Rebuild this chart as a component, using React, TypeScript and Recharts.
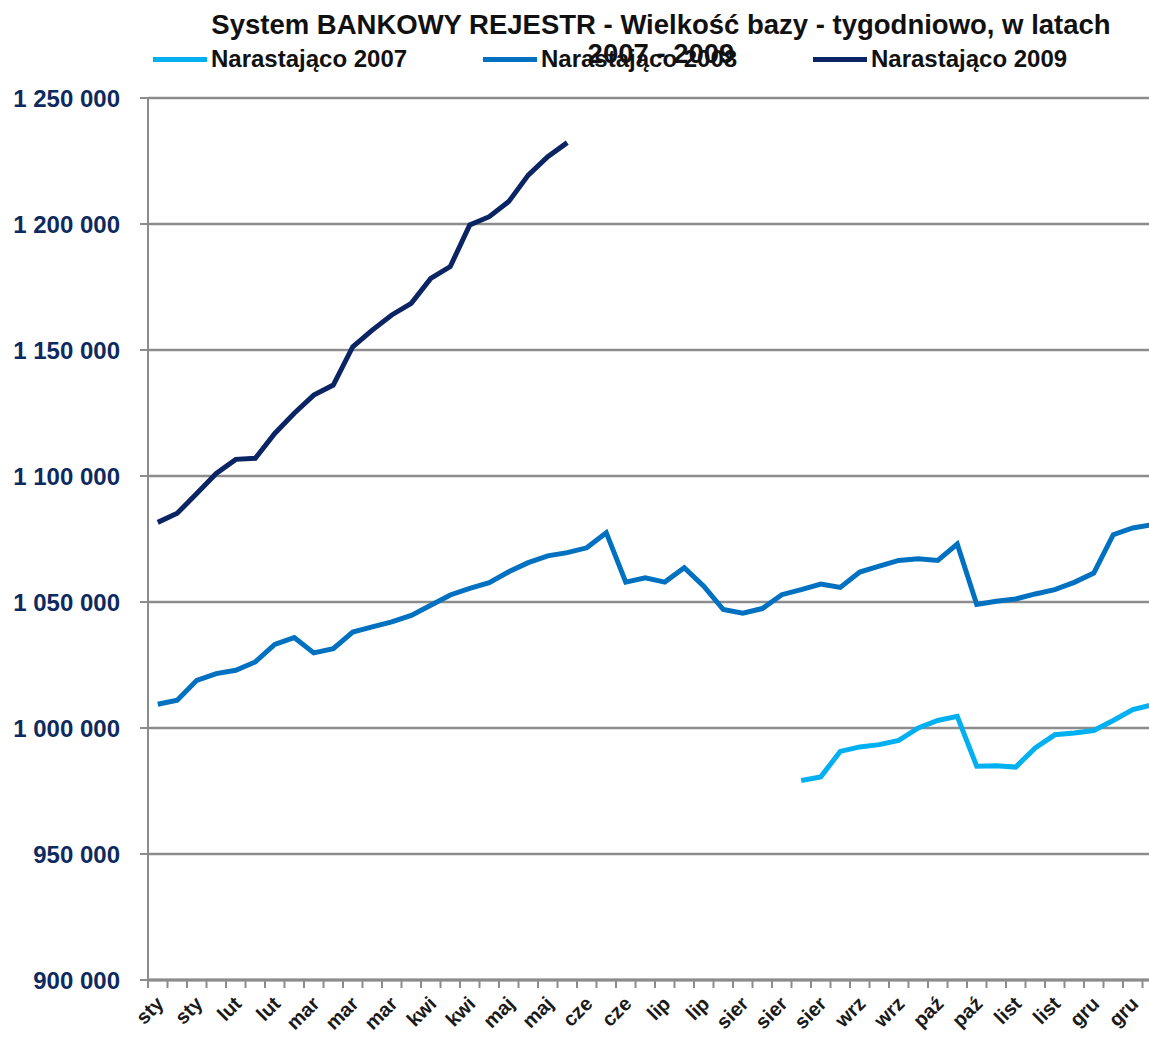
import { LineChart, Line, XAxis, YAxis, CartesianGrid } from "recharts";

const WEEKS = [
  "sty", "sty", "sty", "sty", "lut", "lut", "lut", "lut", "mar", "mar", "mar", "mar", "mar",
  "kwi", "kwi", "kwi", "kwi", "kwi", "maj", "maj", "maj", "maj", "cze", "cze", "cze", "cze",
  "lip", "lip", "lip", "lip", "sier", "sier", "sier", "sier", "sier", "wrz", "wrz", "wrz", "wrz",
  "paź", "paź", "paź", "paź", "list", "list", "list", "list", "gru", "gru", "gru", "gru", "gru",
];

// 2007 data starts in August (week 33)
const Y2007 = [
  null, null, null, null, null, null, null, null, null, null, null, null, null,
  null, null, null, null, null, null, null, null, null, null, null, null, null,
  null, null, null, null, null, null, null, 979200, 980600, 990700, 992500, 993400, 995100,
  1000000, 1003000, 1004600, 984800, 985000, 984500, 992100, 997300, 998000, 999000, 1003000, 1007300, 1009200,
];

const Y2008 = [
  1009400, 1011000, 1018900, 1021600, 1022900, 1026200, 1033200, 1035900, 1029800, 1031500, 1038100, 1040100, 1042100,
  1044700, 1048700, 1052800, 1055400, 1057700, 1062000, 1065600, 1068300, 1069600, 1071500, 1077500, 1057900, 1059600,
  1057900, 1063600, 1056300, 1047000, 1045600, 1047400, 1052900, 1054900, 1057100, 1055800, 1061900, 1064200, 1066500,
  1067200, 1066500, 1073000, 1049000, 1050300, 1051200, 1053200, 1054900, 1057800, 1061500, 1076700, 1079400, 1080700,
];

const Y2009 = [
  1081600, 1085200, 1093100, 1101000, 1106600, 1107000, 1116900, 1124900, 1132100, 1136100, 1151300, 1157900, 1163900,
  1168500, 1178400, 1183100, 1199600, 1202900, 1208900, 1219400, 1226700, 1232300,
];

const Y_TICKS = [900000, 950000, 1000000, 1050000, 1100000, 1150000, 1200000, 1250000];

const SERIES = [
  { key: "y2007", name: "Narastająco 2007", color: "#00b0f0" },
  { key: "y2008", name: "Narastająco 2008", color: "#0070c0" },
  { key: "y2009", name: "Narastająco 2009", color: "#0b2463" },
];

const data = WEEKS.map((week, i) => ({
  week,
  y2007: Y2007[i] ?? null,
  y2008: Y2008[i] ?? null,
  y2009: Y2009[i] ?? null,
}));

const PLOT_W = 1014;
const STEP = PLOT_W / WEEKS.length;
const GRID = "#8c8c8c";
const FONT = "'Liberation Sans', Arial, sans-serif";

const fmt = (v: number) => String(v).replace(/\B(?=(\d{3})+(?!\d))/g, " ");

function WeekTick(props: any) {
  const { x, y, index, payload } = props;
  const lx = x - STEP / 2;
  return (
    <g>
      <line x1={lx} y1={y} x2={lx} y2={y + 8} stroke={GRID} strokeWidth={2} />
      {index % 2 === 0 && (
        <text
          x={x + 7}
          y={y + 25}
          transform={`rotate(-45, ${x + 7}, ${y + 25})`}
          textAnchor="end"
          fill="#1a1a1a"
          fontSize={20}
          fontWeight="bold"
          fontFamily={FONT}
        >
          {payload.value}
        </text>
      )}
    </g>
  );
}

export default function App() {
  return (
    <div style={{ position: "fixed", left: 0, top: 0, width: 1149, height: 1049, overflow: "hidden", background: "#fff" }}>
      <div style={{ position: "absolute", left: 8, top: 8, width: 1160, height: 1041 }}>
        <div
          style={{
            position: "absolute",
            left: 0,
            width: 1306,
            top: 2,
            textAlign: "center",
            fontFamily: FONT,
            fontWeight: "bold",
            fontSize: 27.5,
            lineHeight: "29px",
            color: "#111",
            zIndex: 2,
          }}
        >
          System BANKOWY REJESTR - Wielkość bazy - tygodniowo, w latach
          <br />
          2007 - 2009
        </div>
        {SERIES.map((s, i) => (
          <div
            key={s.key}
            style={{
              position: "absolute",
              top: 37,
              left: [145, 475, 805][i],
              display: "flex",
              alignItems: "center",
              fontFamily: FONT,
              fontWeight: "bold",
              fontSize: 24,
              color: "#111",
              zIndex: 1,
            }}
          >
            <span style={{ display: "inline-block", width: 54, height: 5, background: s.color, marginRight: 4 }} />
            {s.name}
          </div>
        ))}
        <LineChart width={1160} height={1041} data={data} margin={{ top: 90, right: 6, left: 0, bottom: 9 }}>
          <CartesianGrid vertical={false} stroke={GRID} strokeWidth={2.5} />
          <XAxis
            dataKey="week"
            interval={0}
            padding={{ left: STEP / 2, right: STEP / 2 }}
            tickLine={false}
            tickSize={0}
            tickMargin={0}
            height={60}
            axisLine={{ stroke: GRID, strokeWidth: 3 }}
            tick={<WeekTick />}
          />
          <YAxis
            width={140}
            domain={[900000, 1250000]}
            ticks={Y_TICKS}
            interval={0}
            tickFormatter={fmt}
            tickSize={8}
            tickMargin={20}
            axisLine={{ stroke: GRID, strokeWidth: 2 }}
            tickLine={{ stroke: GRID, strokeWidth: 2 }}
            tick={{ fill: "#0e2a5f", fontSize: 24, fontWeight: "bold", fontFamily: FONT }}
          />
          {SERIES.map((s) => (
            <Line
              key={s.key}
              type="linear"
              dataKey={s.key}
              name={s.name}
              stroke={s.color}
              strokeWidth={5}
              dot={false}
              isAnimationActive={false}
            />
          ))}
        </LineChart>
      </div>
    </div>
  );
}
